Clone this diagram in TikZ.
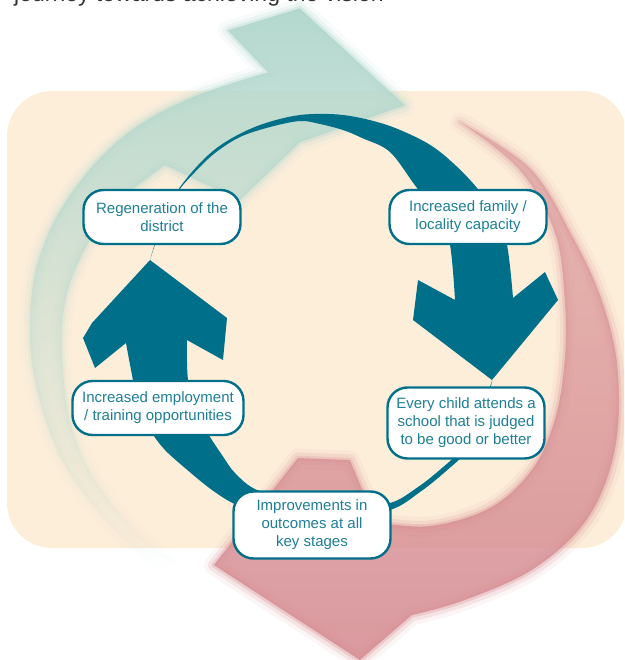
\documentclass[tikz,border=0pt]{standalone}
\usepackage{fontspec}
\setmainfont{Liberation Sans}
\usetikzlibrary{fadings}
\definecolor{bgpeach}{HTML}{FDEEDA}
\definecolor{ringteal}{HTML}{006F8A}
\definecolor{labelteal}{HTML}{1E7F97}
\definecolor{hazeteal}{HTML}{B4D8CE}
\definecolor{hazered}{HTML}{D68E93}
\definecolor{titlegray}{HTML}{333333}
\tikzfading[name=tealfade, top color=transparent!0, middle color=transparent!5, bottom color=transparent!100]
\tikzfading[name=redfade, top color=transparent!45, middle color=transparent!0, bottom color=transparent!10]
\tikzset{
  stage/.style={draw=ringteal, line width=2.4pt, fill=white, rounded corners=20pt,
    minimum width=157pt, minimum height=54pt, align=center, text=labelteal,
    font=\fontsize{15}{18}\selectfont, inner sep=1pt},
  haze/.style 2 args={
    preaction={draw=#1, line width=20pt, opacity=0.1, line join=round, path fading=#2},
    preaction={draw=#1, line width=12pt, opacity=0.2, line join=round, path fading=#2},
    preaction={draw=#1, line width=5pt, opacity=0.35, line join=round, path fading=#2},
    fill=#1, path fading=#2},
}
\begin{document}
\begin{tikzpicture}[x=1pt, y=-1pt]
  \useasboundingbox (0,0) rectangle (624,660);
  \clip (0,0) rectangle (624,660);

  % Title line, cut off at the top
  \node[anchor=base west, text=titlegray, font=\fontsize{23}{26}\selectfont, inner sep=0pt] (title) at (14,1.5) {journey towards achieving the vision};

  % Background panel
  \fill[bgpeach, rounded corners=45pt] (7,91) rectangle (627,548);

  % Faint red sweep: right side, head at the bottom
  \path[haze={hazered}{redfade}] plot[smooth, tension=0.6] coordinates {(460,122) (530,168) (572,235) (602,300) (618,370) (615,450) (588,518) (535,568) (465,600) (412,615)}
    -- (360,660) -- (214,565) -- (298,458) -- (350,460) -- (376,522)
    -- plot[smooth, tension=0.6] coordinates {(376,522) (430,526) (490,508) (532,470) (555,420) (565,360) (565,300) (555,232) (520,170) (460,122)} -- cycle;

  % Faint teal sweep: left side, head at the top
  \path[haze={hazeteal}{tealfade}] plot[smooth, tension=0.6] coordinates {(160,570) (110,525) (62,460) (36,385) (30,320) (40,255) (72,192) (125,135) (190,98) (268,72)}
    -- (228,30) -- (300,8) -- (405,105) -- (300,142) -- (240,200) -- (165,165)
    -- plot[smooth, tension=0.6] coordinates {(165,165) (120,200) (90,240) (68,290) (62,345) (70,420) (95,480) (140,535) (178,562)} -- cycle;

  % Dark ring, upper half: down arrow on the right
  \fill[ringteal] plot[smooth, tension=0.55] coordinates {(150,260) (162,222) (178,190) (203,160) (227,141) (260,125) (300,115) (343,115) (387,125) (427,143) (453,163) (477,188) (495,215) (507,245) (513,298)}
    -- (545,272) -- (558,300) -- (492,380) -- (413,320) -- (418,280) -- (455,300)
    -- plot[smooth, tension=0.55] coordinates {(455,300) (450,245) (438,212) (417,188) (390,152) (362,138) (343,130) (320,124) (300,121) (270,127) (240,137) (215,153) (195,172) (178,192) (162,225) (150,260)} -- cycle;

  % Dark ring, lower half: up arrow on the left
  \fill[ringteal] plot[smooth, tension=0.55] coordinates {(492,380) (484,420) (468,450) (445,472) (420,492) (390,510) (330,521) (275,517) (237,505) (212,490) (185,468) (165,450) (152,433) (140,410) (133,380) (126,343)}
    -- (95,368) -- (83,338) -- (92,323) -- (150,260) -- (227,318) -- (223,360) -- (187,340)
    -- plot[smooth, tension=0.55] coordinates {(187,340) (188,380) (197,415) (210,437) (222,455) (235,473) (257,490) (300,500) (350,504) (390,503) (418,487) (442,468) (464,447) (480,418) (492,380)} -- cycle;

  % Stages
  \node[stage] (regen) at (162,217) {Regeneration of the\\district};
  \node[stage] (family) at (468,217) {Increased family /\\locality capacity};
  \node[stage, minimum width=171pt] (employ) at (158,408) {Increased employment\\/ training opportunities};
  \node[stage, minimum height=71pt] (school) at (466,423) {Every child attends a\\school that is judged\\to be good or better};
  \node[stage, minimum height=67pt] (outcome) at (312,525) {Improvements in\\outcomes at all\\key stages};
\end{tikzpicture}
\end{document}
